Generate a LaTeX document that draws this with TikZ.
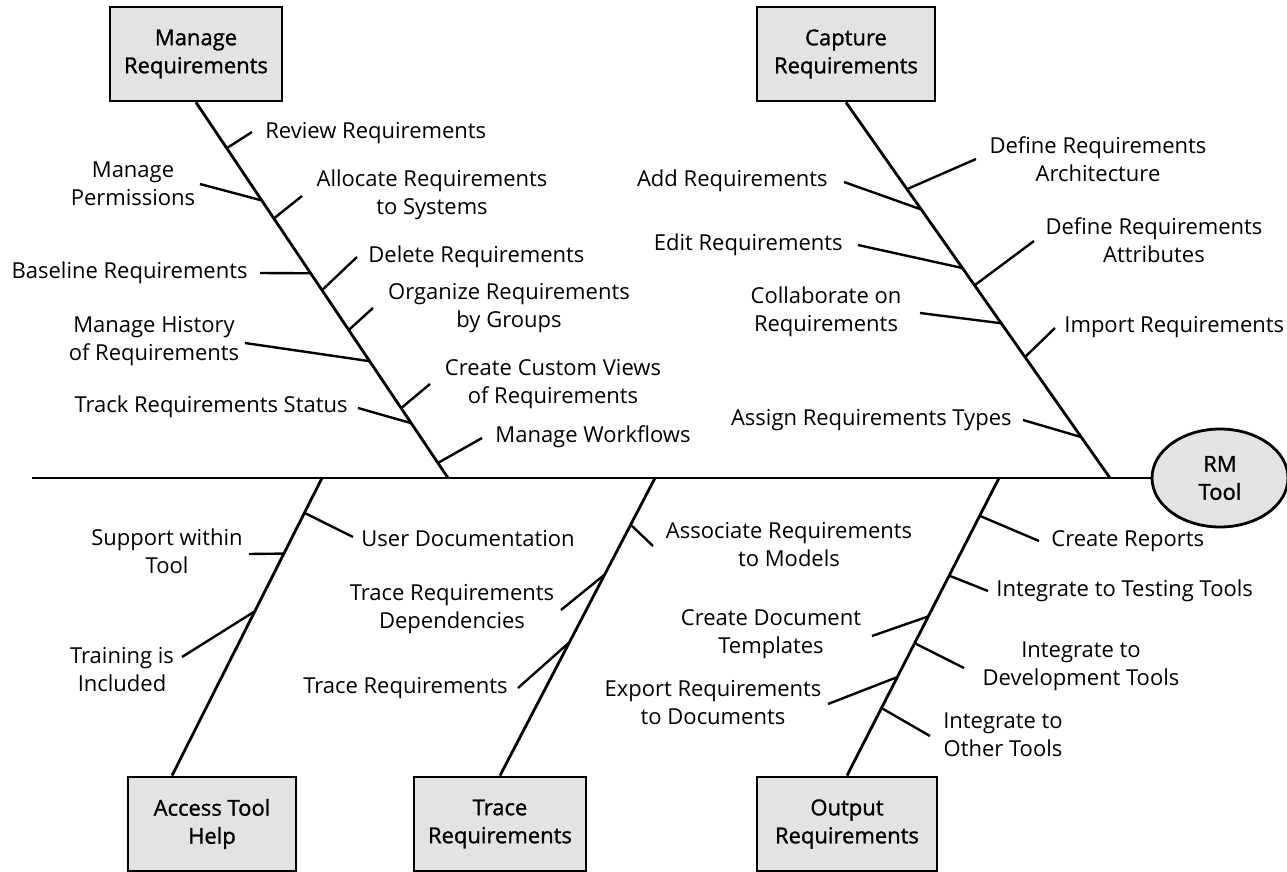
\documentclass[tikz,border=0pt]{standalone}
\usepackage{fontspec}
\setmainfont{Open Sans}
\newfontfamily\boxfont[FakeBold=1.2]{Open Sans}
\usetikzlibrary{shapes.geometric,calc}

\begin{document}
\begin{tikzpicture}[x=0.5pt,y=-0.5pt,
  lbl/.style={font=\fontsize{11}{14}\selectfont,align=center,inner sep=0pt},
  cause/.style={draw,line width=1.4pt,fill=gray!22,font=\boxfont\fontsize{11}{14}\selectfont,align=center,minimum height=47pt},
  bone/.style={line width=1.4pt},
  rib/.style={line width=1.2pt}]
\useasboundingbox (0,0) rectangle (1287,872);

% head and cause boxes
\node[draw,ellipse,line width=1.4pt,fill=gray!22,minimum width=68pt,minimum height=49pt,
  font=\boxfont\fontsize{11}{14}\selectfont,align=center] (rm) at (1220,478) {RM\\Tool};
\node[cause,minimum width=86pt] (mreq) at (196,54) {Manage\\Requirements};
\node[cause,minimum width=89pt] (creq) at (846,54) {Capture\\Requirements};
\node[cause,minimum width=84pt] (access) at (212,824) {Access Tool\\Help};
\node[cause,minimum width=86pt] (trace) at (500,824) {Trace\\Requirements};
\node[cause,minimum width=90pt] (output) at (847,824) {Output\\Requirements};

% spine and main bones
\coordinate (tail) at (32,478);
\coordinate (mj) at (448,478);
\coordinate (cj) at (1110,478);
\coordinate (aj) at (322,478);
\coordinate (tj) at (655,478);
\coordinate (oj) at (999,478);
\draw[bone] (tail) -- (rm.west);
\draw[bone] (mreq.south) -- (mj);
\draw[bone] (creq.south) -- (cj);
\draw[bone] (aj) -- ([xshift=-20pt]access.north);
\draw[bone] (tj) -- (trace.north);
\draw[bone] (oj) -- (output.north);

% Manage Requirements
\node[lbl,anchor=west] (review) at (265,133) {Review Requirements};
\node[lbl] (perm) at (133,184) {Manage\\Permissions};
\node[lbl] (alloc) at (432,195) {Allocate Requirements\\to Systems};
\node[lbl,anchor=east] (base) at (248,273) {Baseline Requirements};
\node[lbl,anchor=west] (delete) at (368,257) {Delete Requirements};
\node[lbl] (organize) at (509,308) {Organize Requirements\\by Groups};
\node[lbl] (history) at (154,341) {Manage History\\of Requirements};
\node[lbl] (views) at (553,384) {Create Custom Views\\of Requirements};
\node[lbl,anchor=east] (status) at (348,407) {Track Requirements Status};
\node[lbl,anchor=west] (flows) at (495,437) {Manage Workflows};
\coordinate (m1) at (252,132);
\coordinate (m2) at (200,184);
\coordinate (m3) at (302,196);
\coordinate (m4) at (260,273);
\coordinate (m5) at (357,257);
\coordinate (m6) at (373,308);
\coordinate (m7) at (245,343);
\coordinate (m8) at (430,384);
\coordinate (m9) at (358,408);
\coordinate (m10) at (482,438);
\draw[rib] ($(mreq.south)!.122!(mj)$) -- (m1);
\draw[rib] ($(mreq.south)!.261!(mj)$) -- (m2);
\draw[rib] ($(mreq.south)!.309!(mj)$) -- (m3);
\draw[rib] ($(mreq.south)!.455!(mj)$) -- (m4);
\draw[rib] ($(mreq.south)!.500!(mj)$) -- (m5);
\draw[rib] ($(mreq.south)!.606!(mj)$) -- (m6);
\draw[rib] ($(mreq.south)!.689!(mj)$) -- (m7);
\draw[rib] ($(mreq.south)!.814!(mj)$) -- (m8);
\draw[rib] ($(mreq.south)!.854!(mj)$) -- (m9);
\draw[rib] ($(mreq.south)!.960!(mj)$) -- (m10);

% Capture Requirements
\node[lbl] (arch) at (1098,159) {Define Requirements\\Architecture};
\node[lbl,anchor=east] (add) at (828,181) {Add Requirements};
\node[lbl,anchor=east] (edit) at (843,245) {Edit Requirements};
\node[lbl] (attr) at (1154,240) {Define Requirements\\Attributes};
\node[lbl] (collab) at (826,312) {Collaborate on\\Requirements};
\node[lbl,anchor=west] (import) at (1064,327) {Import Requirements};
\node[lbl,anchor=east] (types) at (1012,420) {Assign Requirements Types};
\coordinate (c1) at (976,159);
\coordinate (c2) at (844,182);
\coordinate (c3) at (858,245);
\coordinate (c4) at (1034,241);
\coordinate (c5) at (920,313);
\coordinate (c6) at (1055,328);
\coordinate (c7) at (1023,420);
\draw[rib] ($(creq.south)!.231!(cj)$) -- (c1);
\draw[rib] ($(creq.south)!.285!(cj)$) -- (c2);
\draw[rib] ($(creq.south)!.441!(cj)$) -- (c3);
\draw[rib] ($(creq.south)!.487!(cj)$) -- (c4);
\draw[rib] ($(creq.south)!.588!(cj)$) -- (c5);
\draw[rib] ($(creq.south)!.678!(cj)$) -- (c6);
\draw[rib] ($(creq.south)!.891!(cj)$) -- (c7);

% Access Tool Help
\node[lbl,anchor=west] (userdoc) at (361,539) {User Documentation};
\node[lbl] (support) at (167,551) {Support within\\Tool};
\node[lbl] (training) at (122,670) {Training is\\Included};
\coordinate (a1) at (353,537);
\coordinate (a2) at (249,554);
\coordinate (a3) at (182,657);
\draw[rib] ($(aj)!.117!([xshift=-20pt]access.north)$) -- (a1);
\draw[rib] ($(aj)!.254!([xshift=-20pt]access.north)$) -- (a2);
\draw[rib] ($(aj)!.448!([xshift=-20pt]access.north)$) -- (a3);

% Trace Requirements
\node[lbl] (models) at (789,545) {Associate Requirements\\to Models};
\node[lbl] (depend) at (452,609) {Trace Requirements\\Dependencies};
\node[lbl,anchor=east] (tracereq) at (508,688) {Trace Requirements};
\coordinate (t1) at (653,546);
\coordinate (t2) at (561,610);
\coordinate (t3) at (518,688);
\draw[rib] ($(tj)!.157!(trace.north)$) -- (t1);
\draw[rib] ($(tj)!.324!(trace.north)$) -- (t2);
\draw[rib] ($(tj)!.552!(trace.north)$) -- (t3);

% Output Requirements
\node[lbl,anchor=west] (reports) at (1051,541) {Create Reports};
\node[lbl,anchor=west] (testing) at (996,591) {Integrate to Testing Tools};
\node[lbl] (templates) at (771,634) {Create Document\\Templates};
\node[lbl] (devtools) at (1081,666) {Integrate to\\Development Tools};
\node[lbl] (export) at (713,703) {Export Requirements\\to Documents};
\node[lbl] (other) at (1003,735) {Integrate to\\Other Tools};
\coordinate (o1) at (1039,541);
\coordinate (o2) at (988,591);
\coordinate (o3) at (872,636);
\coordinate (o4) at (964,668);
\coordinate (o5) at (828,704);
\coordinate (o6) at (930,736);
\draw[rib] ($(oj)!.127!(output.north)$) -- (o1);
\draw[rib] ($(oj)!.328!(output.north)$) -- (o2);
\draw[rib] ($(oj)!.465!(output.north)$) -- (o3);
\draw[rib] ($(oj)!.555!(output.north)$) -- (o4);
\draw[rib] ($(oj)!.669!(output.north)$) -- (o5);
\draw[rib] ($(oj)!.773!(output.north)$) -- (o6);
\end{tikzpicture}
\end{document}
